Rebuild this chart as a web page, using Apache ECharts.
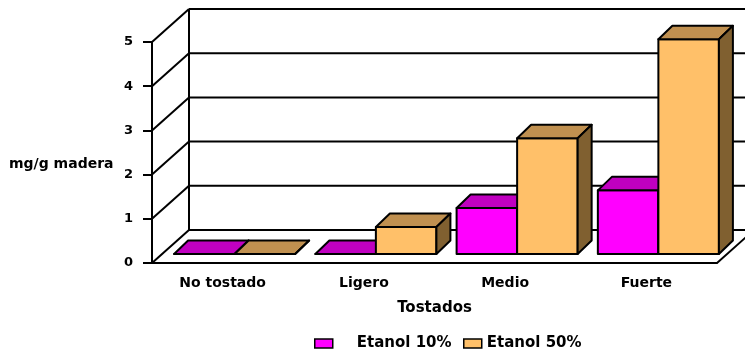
<!DOCTYPE html>
<html>
<head>
<meta charset="utf-8">
<script src="https://cdn.jsdelivr.net/npm/echarts@6/dist/echarts.min.js"></script>
<style>
  html, body { margin: 0; padding: 0; background: #fff; }
  #chart { width: 745px; height: 356px; }
</style>
</head>
<body>
<div id="chart"></div>
<script>
// Data
const categories = ['No tostado', 'Ligero', 'Medio', 'Fuerte'];
const etanol10 = [0, 0, 1.04, 1.44];
const etanol50 = [0, 0.61, 2.62, 4.86];
const seriesNames = ['Etanol 10%', 'Etanol 50%'];
const yTicks = [0, 1, 2, 3, 4, 5];

// 3D projection offsets (pixels)
const DEPTH = [37, -33];       // from front plane to back wall
const BAR_FRONT = [12, -9];    // bars sit a little behind the front plane
const BAR_DEPTH = [14, -13.5]; // thickness of each bar
const GROUP = 0.857;           // share of a category band covered by its bars

const FONT = 'DejaVu Sans';
const txt = (size) => ({ color: '#000', fontFamily: FONT, fontWeight: 'bold', fontSize: size });

const MAGENTA = ['#FF00FF', '#C000C0', '#800080'];
const ORANGE = ['#FFC069', '#C09050', '#806030'];

// Back wall, left wall diagonals and floor edges
function wallItem(params, api) {
  const cs = params.coordSys;
  const left = cs.x, right = cs.x + cs.width;
  const y = api.coord([0, api.value(1)])[1];
  const [dx, dy] = DEPTH;
  const ls = { stroke: '#000', lineWidth: 2 };
  const children = [
    { type: 'line', shape: { x1: left, y1: y, x2: left + dx, y2: y + dy }, style: ls },
    { type: 'line', shape: { x1: left + dx, y1: y + dy, x2: right + dx, y2: y + dy }, style: ls }
  ];
  if (params.dataIndex === 0) {
    const yTop = cs.y, yBot = cs.y + cs.height;
    children.push({ type: 'line', shape: { x1: left + dx, y1: yBot + dy, x2: left + dx, y2: yTop + dy }, style: ls });
    children.push({ type: 'line', shape: { x1: right, y1: yBot, x2: right + dx, y2: yBot + dy }, style: ls });
  }
  return { type: 'group', children };
}

// A box-shaped bar: front face, top face, right side face
function barItem(slot, colors) {
  return function (params, api) {
    const cat = api.value(0), v = api.value(1);
    const base = api.coord([cat, 0]);
    const top = api.coord([cat, v]);
    const band = api.size([1, 0])[0];
    const w = band * GROUP / 2;
    const x0 = base[0] - band * GROUP / 2 + slot * w + BAR_FRONT[0];
    const x1 = x0 + w;
    const yb = base[1] + BAR_FRONT[1];
    const yt = top[1] + BAR_FRONT[1];
    const [dx, dy] = BAR_DEPTH;
    const edge = { stroke: '#000', lineWidth: 2, lineJoin: 'round' };
    return {
      type: 'group',
      children: [
        { type: 'polygon', shape: { points: [[x0, yt], [x1, yt], [x1, yb], [x0, yb]] }, style: Object.assign({ fill: colors[0] }, edge) },
        { type: 'polygon', shape: { points: [[x0, yt], [x0 + dx, yt + dy], [x1 + dx, yt + dy], [x1, yt]] }, style: Object.assign({ fill: colors[1] }, edge) },
        { type: 'polygon', shape: { points: [[x1, yt], [x1 + dx, yt + dy], [x1 + dx, yb + dy], [x1, yb]] }, style: Object.assign({ fill: colors[2] }, edge) }
      ]
    };
  };
}

const legendBase = {
  top: 331,
  orient: 'horizontal',
  icon: 'rect',
  itemWidth: 18,
  itemHeight: 9,
  selectedMode: false,
  itemStyle: { borderColor: '#000', borderWidth: 1.5 }
};

const chart = echarts.init(document.getElementById('chart'), null, { renderer: 'canvas' });
chart.setOption({
  animation: false,
  backgroundColor: '#fff',
  title: {
    text: 'mg/g madera',
    left: 9,
    top: 157,
    padding: 0,
    textStyle: txt(14)
  },
  legend: [
    Object.assign({}, legendBase, { data: [seriesNames[0]], left: 309, textStyle: Object.assign(txt(15), { padding: [0, 0, 0, 19] }) }),
    Object.assign({}, legendBase, { data: [seriesNames[1]], left: 458, textStyle: txt(15) })
  ],
  grid: { left: 152, top: 42, width: 565, height: 221, containLabel: false },
  xAxis: {
    type: 'category',
    data: categories,
    boundaryGap: true,
    axisLine: { show: true, lineStyle: { color: '#000', width: 2 } },
    axisTick: { show: false },
    axisLabel: Object.assign(txt(14), { margin: 13 }),
    splitLine: { show: false },
    name: 'Tostados',
    nameLocation: 'middle',
    nameGap: 38,
    nameTextStyle: txt(15)
  },
  yAxis: {
    type: 'value',
    min: 0,
    max: 5,
    interval: 1,
    axisLine: { show: true, lineStyle: { color: '#000', width: 2 } },
    axisTick: { show: true, length: 9, lineStyle: { color: '#000', width: 2 } },
    axisLabel: Object.assign(txt(13), { margin: 19 }),
    splitLine: { show: false }
  },
  series: [
    {
      type: 'custom',
      name: 'walls',
      silent: true,
      z: 1,
      encode: { x: 0, y: 1 },
      data: yTicks.map(t => [0, t]),
      renderItem: wallItem
    },
    {
      type: 'custom',
      name: seriesNames[0],
      z: 2,
      encode: { x: 0, y: 1 },
      itemStyle: { color: MAGENTA[0], borderColor: '#000', borderWidth: 1.5 },
      data: etanol10.map((v, i) => [i, v]),
      renderItem: barItem(0, MAGENTA)
    },
    {
      type: 'custom',
      name: seriesNames[1],
      z: 3,
      encode: { x: 0, y: 1 },
      itemStyle: { color: ORANGE[0], borderColor: '#000', borderWidth: 1.5 },
      data: etanol50.map((v, i) => [i, v]),
      renderItem: barItem(1, ORANGE)
    }
  ]
});
</script>
</body>
</html>
